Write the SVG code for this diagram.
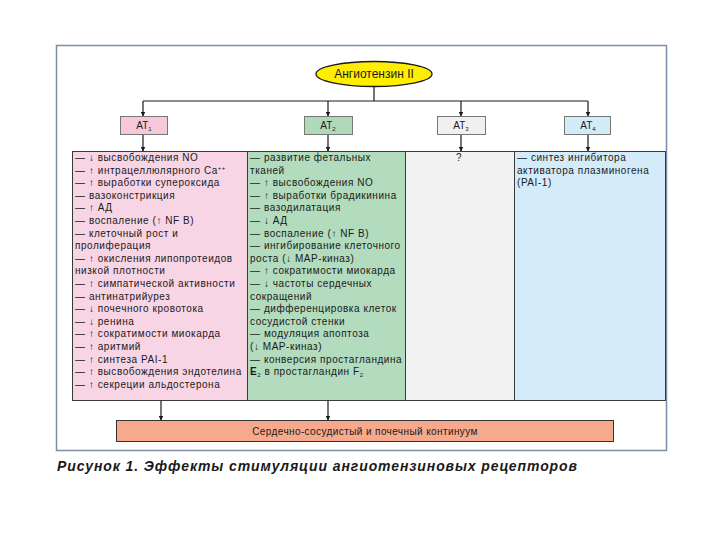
<svg xmlns="http://www.w3.org/2000/svg" width="720" height="540" viewBox="0 0 720 540">
<style>
text{font-family:"Liberation Sans",Arial,sans-serif;fill:#1a1a1a}
.col{stroke:#3a3a3a;stroke-width:1}
.at{stroke:#777;stroke-width:1}
.lst{font-size:10px;letter-spacing:0.55px}
.lbl{font-size:10px}
.con{stroke:#1a1a1a;stroke-width:1.2;fill:none}
</style>
<defs>
<marker id="ah" viewBox="0 0 10 10" refX="9" refY="5" markerWidth="5" markerHeight="5" orient="auto" markerUnits="userSpaceOnUse">
<path d="M0,0 L10,5 L0,10 z" fill="#1a1a1a"/>
</marker>
</defs>
<rect x="0" y="0" width="720" height="540" fill="#ffffff"/>
<rect id="frame" x="56.5" y="45.5" width="610" height="405" fill="#ffffff" stroke="#7d8ca8" stroke-width="1.5"/>

<g id="connectors">
<line class="con" x1="374" y1="86" x2="374" y2="101"/>
<line class="con" x1="143" y1="101" x2="588" y2="101"/>
<line class="con" x1="143" y1="101" x2="143" y2="116" marker-end="url(#ah)"/>
<line class="con" x1="328" y1="101" x2="328" y2="116" marker-end="url(#ah)"/>
<line class="con" x1="461" y1="101" x2="461" y2="116" marker-end="url(#ah)"/>
<line class="con" x1="588" y1="101" x2="588" y2="116" marker-end="url(#ah)"/>
<line class="con" x1="143" y1="134" x2="143" y2="151" marker-end="url(#ah)"/>
<line class="con" x1="328" y1="134" x2="328" y2="151" marker-end="url(#ah)"/>
<line class="con" x1="461" y1="134" x2="461" y2="151" marker-end="url(#ah)"/>
<line class="con" x1="588" y1="134" x2="588" y2="151" marker-end="url(#ah)"/>
<line class="con" x1="161" y1="400" x2="161" y2="420" marker-end="url(#ah)"/>
<line class="con" x1="328" y1="400" x2="328" y2="420" marker-end="url(#ah)"/>
</g>

<g id="angiotensin">
<ellipse cx="374" cy="74" rx="58" ry="12.5" fill="#ffee00" stroke="#1a1a1a" stroke-width="1.3"/>
<text x="374" y="78" font-size="12" text-anchor="middle">Ангиотензин II</text>
</g>

<g id="at1">
<rect class="at" x="120.5" y="116.5" width="47" height="18" fill="#f5c8da"/>
<text class="lbl" x="144" y="129" text-anchor="middle">AT<tspan font-size="6" dy="2">1</tspan></text>
</g>
<g id="at2">
<rect class="at" x="304.5" y="116.5" width="48" height="18" fill="#b0d9bb"/>
<text class="lbl" x="328" y="129" text-anchor="middle">AT<tspan font-size="6" dy="2">2</tspan></text>
</g>
<g id="at3">
<rect class="at" x="437.5" y="116.5" width="48" height="18" fill="#f0f0f0"/>
<text class="lbl" x="461" y="129" text-anchor="middle">AT<tspan font-size="6" dy="2">3</tspan></text>
</g>
<g id="at4">
<rect class="at" x="564.5" y="116.5" width="46" height="18" fill="#d2ebf9"/>
<text class="lbl" x="588" y="129" text-anchor="middle">AT<tspan font-size="6" dy="2">4</tspan></text>
</g>

<g id="col1">
<rect class="col" x="72.5" y="151.5" width="175" height="249" fill="#f8d5e5"/>
<text class="lst" x="75" y="161">
<tspan x="75" dy="0">— ↓ высвобождения NO</tspan>
<tspan x="75" dy="12.6">— ↑ интрацеллюлярного Ca<tspan font-size="6" dy="-4">++</tspan></tspan>
<tspan x="75" dy="16.6">— ↑ выработки супероксида</tspan>
<tspan x="75" dy="12.6">— вазоконстрикция</tspan>
<tspan x="75" dy="12.6">— ↑ АД</tspan>
<tspan x="75" dy="12.6">— воспаление (↑ NF B)</tspan>
<tspan x="75" dy="12.6">— клеточный рост и</tspan>
<tspan x="75" dy="12.6">пролиферация</tspan>
<tspan x="75" dy="12.6">— ↑ окисления липопротеидов</tspan>
<tspan x="75" dy="12.6">низкой плотности</tspan>
<tspan x="75" dy="12.6">— ↑ симпатической активности</tspan>
<tspan x="75" dy="12.6">— антинатрийурез</tspan>
<tspan x="75" dy="12.6">— ↓ почечного кровотока</tspan>
<tspan x="75" dy="12.6">— ↓ ренина</tspan>
<tspan x="75" dy="12.6">— ↑ сократимости миокарда</tspan>
<tspan x="75" dy="12.6">— ↑ аритмий</tspan>
<tspan x="75" dy="12.6">— ↑ синтеза PAI-1</tspan>
<tspan x="75" dy="12.6">— ↑ высвобождения эндотелина</tspan>
<tspan x="75" dy="12.6">— ↑ секреции альдостерона</tspan>
</text>
</g>

<g id="col2">
<rect class="col" x="247.5" y="151.5" width="158" height="249" fill="#b3dbbe"/>
<text class="lst" x="250" y="161">
<tspan x="250" dy="0">— развитие фетальных</tspan>
<tspan x="250" dy="12.6">тканей</tspan>
<tspan x="250" dy="12.6">— ↑ высвобождения NO</tspan>
<tspan x="250" dy="12.6">— ↑ выработки брадикинина</tspan>
<tspan x="250" dy="12.6">— вазодилатация</tspan>
<tspan x="250" dy="12.6">— ↓ АД</tspan>
<tspan x="250" dy="12.6">— воспаление (↑ NF B)</tspan>
<tspan x="250" dy="12.6">— ингибирование клеточного</tspan>
<tspan x="250" dy="12.6">роста (↓ MAP-киназ)</tspan>
<tspan x="250" dy="12.6">— ↑ сократимости миокарда</tspan>
<tspan x="250" dy="12.6">— ↓ частоты сердечных</tspan>
<tspan x="250" dy="12.6">сокращений</tspan>
<tspan x="250" dy="12.6">— дифференцировка клеток</tspan>
<tspan x="250" dy="12.6">сосудистой стенки</tspan>
<tspan x="250" dy="12.6">— модуляция апоптоза</tspan>
<tspan x="250" dy="12.6">(↓ MAP-киназ)</tspan>
<tspan x="250" dy="12.6">— конверсия простагландина</tspan>
<tspan x="250" dy="12.6"><tspan font-weight="bold">E</tspan><tspan font-size="6" dy="2">2</tspan><tspan dy="-2"> в простагландин F</tspan><tspan font-size="6" dy="2">2</tspan></tspan>
</text>
</g>

<g id="col3">
<rect class="col" x="405.5" y="151.5" width="109" height="249" fill="#f2f2f2"/>
<text class="lst" x="459" y="161" text-anchor="middle">?</text>
</g>

<g id="col4">
<rect class="col" x="514.5" y="151.5" width="151" height="249" fill="#d4ecfa"/>
<text class="lst" x="517" y="161">
<tspan x="517" dy="0">— синтез ингибитора</tspan>
<tspan x="517" dy="12.6">активатора плазминогена</tspan>
<tspan x="517" dy="12.6">(PAI-1)</tspan>
</text>
</g>

<g id="continuum">
<rect x="116.5" y="420.5" width="497" height="21" fill="#f6a98c" stroke="#333" stroke-width="1"/>
<text x="365" y="434.5" font-size="10" letter-spacing="0.4" text-anchor="middle">Сердечно-сосудистый и почечный континуум</text>
</g>

<text x="57" y="471" font-size="14" font-weight="bold" font-style="italic" textLength="520" lengthAdjust="spacing">Рисунок 1. Эффекты стимуляции ангиотензиновых рецепторов</text>
</svg>
